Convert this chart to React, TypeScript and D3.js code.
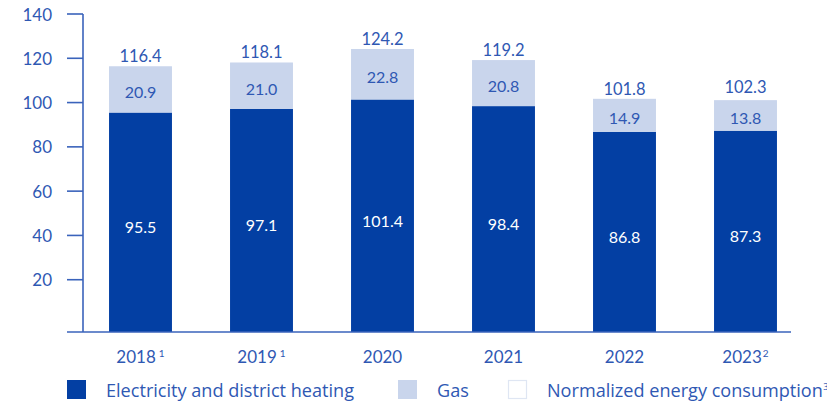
import { useMemo } from "react";
import * as d3 from "d3";

const years = ["2018", "2019", "2020", "2021", "2022", "2023"];
const yearNotes = ["1", "1", "", "", "", "2"];
const electricity = [95.5, 97.1, 101.4, 98.4, 86.8, 87.3];
const gas = [20.9, 21.0, 22.8, 20.8, 14.9, 13.8];
const totals = [116.4, 118.1, 124.2, 119.2, 101.8, 102.3];
const yTicks = [20, 40, 60, 80, 100, 120, 140];

const legendItems = [
  { label: "Electricity and district heating", kind: "elec" },
  { label: "Gas", kind: "gas" },
  { label: "Normalized energy consumption", kind: "norm", note: "3" },
];

const W = 827;
const H = 406;
const DARK = "#033fa3";
const LIGHT = "#c9d5ec";
const AXIS = "#3a63bb";
const TEXT = "#2f58b3";
const FONT = "Lato, 'Open Sans', sans-serif";
const LEGEND_FONT = "'Open Sans', Lato, sans-serif";

export default function App() {
  const axisX = 83;
  const baseline = 332;

  const x = useMemo(
    () =>
      d3
        .scaleBand<string>()
        .domain(years)
        .range([80, 806])
        .paddingInner(0.48)
        .paddingOuter(0.24),
    [],
  );
  const y = useMemo(
    () => d3.scaleLinear().domain([0, 140]).range([324, 14]),
    [],
  );

  const bw = x.bandwidth();

  return (
    <svg
      width={W}
      height={H}
      style={{ position: "absolute", left: 0, top: 0, fontFamily: FONT }}
    >
      {/* bars */}
      {years.map((yr, i) => {
        const x0 = x(yr)!;
        const cx = x0 + bw / 2;
        const elecTop = y(electricity[i]);
        const gasTop = y(electricity[i] + gas[i]);
        return (
          <g key={yr}>
            <rect x={x0} y={elecTop} width={bw} height={baseline - elecTop} fill={DARK} />
            <rect x={x0} y={gasTop} width={bw} height={elecTop - gasTop} fill={LIGHT} />
            <text
              x={cx}
              y={(elecTop + baseline) / 2 + 4.5}
              textAnchor="middle"
              dominantBaseline="central"
              fill="#ffffff"
              fontSize={16}
            >
              {electricity[i].toFixed(1)}
            </text>
            <text
              x={cx}
              y={(gasTop + elecTop) / 2 + 2.5}
              textAnchor="middle"
              dominantBaseline="central"
              fill={TEXT}
              fontSize={16}
            >
              {gas[i].toFixed(1)}
            </text>
            <text x={cx} y={y(totals[i]) - 4} textAnchor="middle" fill={TEXT} fontSize={16.5}>
              {totals[i].toFixed(1)}
            </text>
            <text x={cx} y={362.5} textAnchor="middle" fill={TEXT} fontSize={17}>
              {yr}
              {yearNotes[i] && (
                <tspan fontSize={10} dx={yearNotes[i] === "1" ? 3 : 1} dy={-6}>
                  {yearNotes[i]}
                </tspan>
              )}
            </text>
          </g>
        );
      })}

      {/* y axis */}
      <line x1={axisX} x2={axisX} y1={y(140)} y2={baseline} stroke={AXIS} strokeWidth={1.6} />
      {yTicks.map((t) => (
        <g key={t}>
          <line x1={67} x2={axisX} y1={y(t)} y2={y(t)} stroke={AXIS} strokeWidth={1.6} />
          <text
            x={52}
            y={y(t)}
            textAnchor="end"
            dominantBaseline="central"
            fill={TEXT}
            fontSize={17}
          >
            {t}
          </text>
        </g>
      ))}
      {/* x axis */}
      <line x1={67} x2={791} y1={baseline} y2={baseline} stroke={AXIS} strokeWidth={1.6} />

      {/* legend */}
      {legendItems.map((item, i) => {
        const sx = [67, 398, 508][i];
        return (
          <g key={item.label}>
            {item.kind === "norm" ? (
              <rect x={sx + 0.5} y={380.5} width={18} height={18} fill="#ffffff" stroke="#dfe6f3" strokeWidth={1.2} />
            ) : (
              <rect x={sx} y={380} width={19} height={19} fill={item.kind === "elec" ? DARK : LIGHT} />
            )}
            <text x={sx + 39} y={396.5} fill={TEXT} fontSize={18.1} fontFamily={LEGEND_FONT}>
              {item.label}
              {item.note && (
                <tspan fontSize={9} dx={0.5} dy={-7}>
                  {item.note}
                </tspan>
              )}
            </text>
          </g>
        );
      })}
    </svg>
  );
}
